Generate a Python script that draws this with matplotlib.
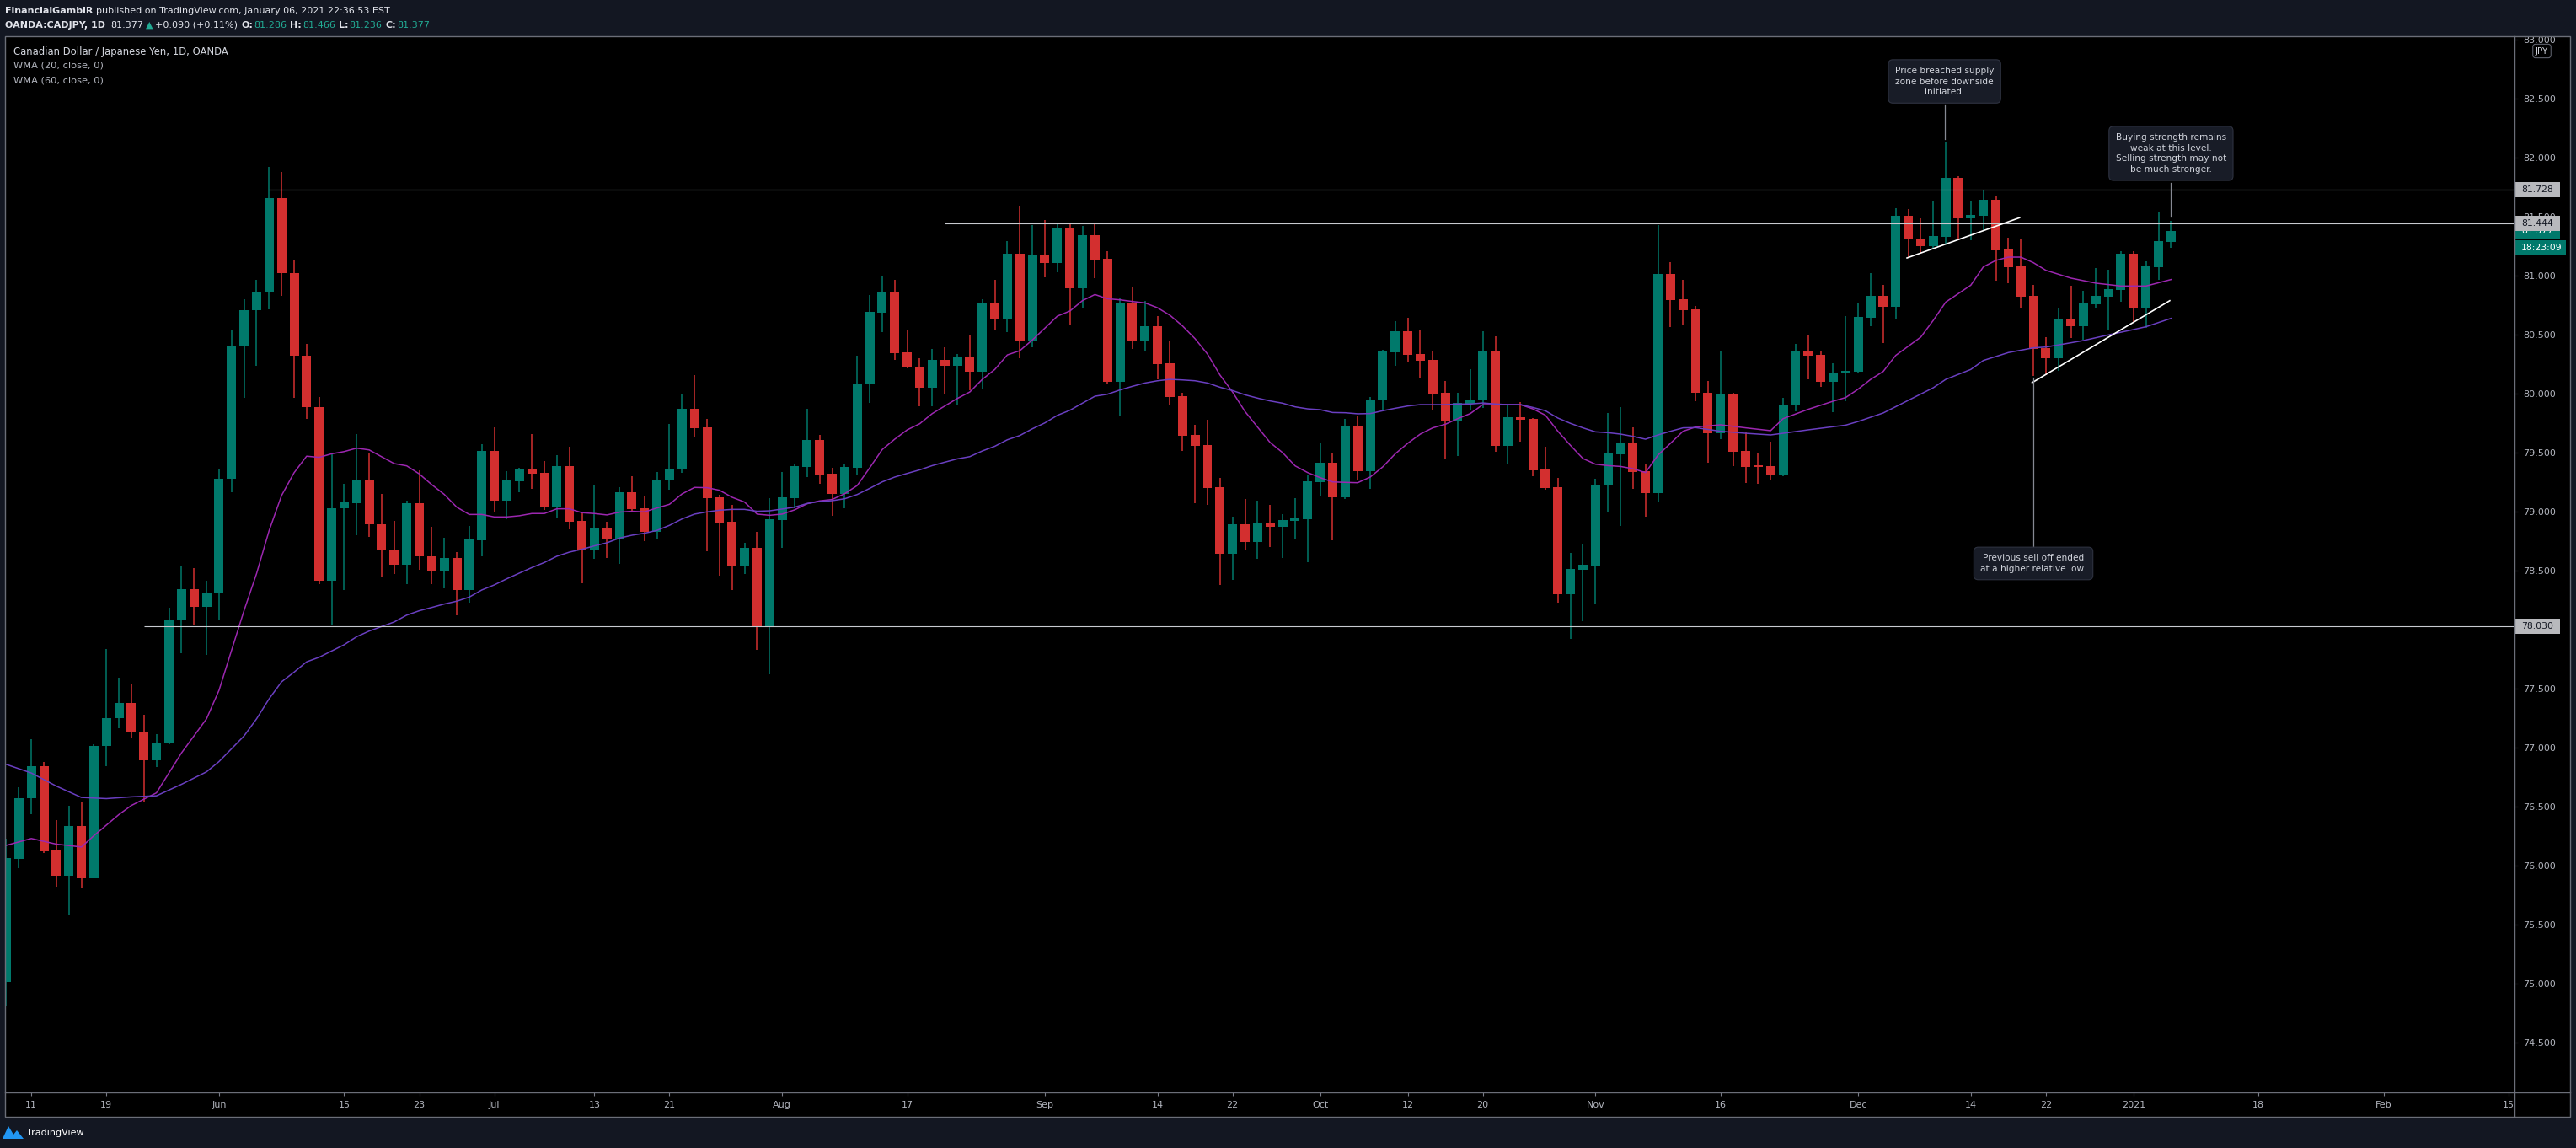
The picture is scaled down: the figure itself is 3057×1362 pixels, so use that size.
import numpy as np
import pandas as pd
import matplotlib
matplotlib.use("Agg")
import matplotlib.pyplot as plt
from matplotlib.patches import Rectangle, Polygon
from matplotlib.lines import Line2D

plt.rcParams['font.family'] = ['DejaVu Sans']

# ---- data ----
# daily bars from 2020-05-07 to 2021-01-07, OANDA:CADJPY
opens = [75.013, 76.056, 76.568, 76.843, 76.129, 75.916, 76.336, 75.892, 77.012, 77.249,
         77.379, 77.133, 76.892, 77.036, 78.084, 78.34, 78.195, 78.311, 79.277, 80.402,
         80.706, 80.856, 81.657, 81.025, 80.325, 79.885, 78.413, 79.031, 79.074, 79.272,
         78.895, 78.669, 78.553, 79.069, 78.622, 78.496, 78.607, 78.338, 78.76, 79.515,
         79.096, 79.26, 79.357, 79.329, 79.038, 79.386, 78.922, 78.672, 78.857, 78.765,
         79.165, 79.029, 78.829, 79.265, 79.36, 79.872, 79.714, 79.122, 78.915, 78.546,
         78.693, 78.031, 78.931, 79.115, 79.379, 79.607, 79.322, 79.152, 79.371, 80.081,
         80.688, 80.864, 80.35, 80.228, 80.052, 80.285, 80.238, 80.307, 80.188, 80.771,
         80.631, 81.185, 80.445, 81.178, 81.109, 81.407, 80.895, 81.343, 81.143, 80.102,
         80.771, 80.445, 80.571, 80.257, 79.978, 79.65, 79.564, 79.205, 78.645, 78.89,
         78.745, 78.897, 78.874, 78.924, 78.938, 79.25, 79.414, 79.121, 79.729, 79.343,
         79.943, 80.35, 80.529, 80.336, 80.286, 80.007, 79.771, 79.914, 79.943, 80.364,
         79.557, 79.8, 79.786, 79.357, 79.207, 78.3, 78.507, 78.543, 79.221, 79.486,
         79.586, 79.343, 79.157, 81.014, 80.8, 80.714, 80.01, 79.667, 80.0, 79.514,
         79.388, 79.386, 79.317, 79.902, 80.364, 80.329, 80.102, 80.169, 80.186, 80.645,
         80.829, 80.736, 81.507, 81.31, 81.25, 81.329, 81.829, 81.486, 81.507, 81.643,
         81.221, 81.079, 80.829, 80.386, 80.3, 80.636, 80.571, 80.76, 80.821, 80.881,
         81.186, 80.721, 81.071, 81.286]
highs = [76.23, 76.665, 77.07, 76.877, 76.385, 76.505, 76.544, 77.027, 77.833, 77.592,
         77.534, 77.278, 77.114, 78.186, 78.533, 78.52, 78.413, 79.354, 80.542, 80.803,
         80.962, 81.918, 81.88, 81.131, 80.421, 79.972, 79.489, 79.238, 79.658, 79.499,
         79.151, 78.92, 79.093, 79.349, 78.872, 78.776, 78.657, 78.879, 79.574, 79.715,
         79.343, 79.372, 79.657, 79.431, 79.479, 79.55, 78.991, 79.229, 78.915, 79.207,
         79.3, 79.129, 79.336, 79.743, 79.993, 80.157, 79.786, 79.141, 79.057, 78.736,
         78.831, 79.115, 79.336, 79.4, 79.872, 79.65, 79.372, 79.4, 80.324, 80.835,
         80.995, 80.964, 80.535, 80.3, 80.378, 80.393, 80.335, 80.502, 80.8, 80.964,
         81.293, 81.593, 81.428, 81.471, 81.443, 81.443, 81.421, 81.445, 81.207, 80.812,
         80.9, 80.785, 80.657, 80.45, 80.007, 79.735, 79.778, 79.285, 78.954, 79.107,
         79.093, 79.057, 78.979, 79.114, 79.312, 79.579, 79.502, 79.786, 79.814, 79.971,
         80.371, 80.614, 80.643, 80.536, 80.357, 80.107, 80.007, 80.207, 80.529, 80.486,
         79.907, 79.929, 79.79, 79.55, 79.286, 78.65, 78.721, 79.276, 79.836, 79.886,
         79.714, 79.4, 81.429, 81.114, 80.964, 80.743, 80.107, 80.357, 80.007, 79.674,
         79.502, 79.593, 79.967, 80.424, 80.495, 80.364, 80.257, 80.657, 80.764, 81.021,
         80.921, 81.571, 81.567, 81.486, 81.633, 82.129, 81.843, 81.636, 81.729, 81.671,
         81.321, 81.314, 80.921, 80.479, 80.721, 80.914, 80.871, 81.064, 81.05, 81.207,
         81.207, 81.121, 81.543, 81.466]
lows = [74.806, 75.979, 76.433, 76.105, 75.82, 75.588, 75.81, 75.89, 76.843, 77.167,
        77.085, 76.534, 76.834, 77.027, 77.8, 78.041, 77.785, 78.089, 79.161, 79.963,
        80.238, 80.711, 80.832, 79.963, 79.789, 78.388, 78.041, 78.335, 78.799, 78.784,
        78.446, 78.471, 78.384, 78.504, 78.388, 78.353, 78.124, 78.231, 78.624, 78.996,
        78.938, 79.167, 79.196, 79.015, 78.953, 78.853, 78.396, 78.603, 78.61, 78.56,
        79.003, 78.753, 78.774, 79.186, 79.331, 79.638, 78.667, 78.46, 78.338, 78.474,
        77.831, 77.622, 78.693, 79.026, 79.296, 79.236, 78.965, 79.026, 79.304, 79.924,
        80.519, 80.288, 80.212, 79.895, 79.895, 80.002, 79.902, 80.031, 80.045, 80.545,
        80.519, 80.302, 80.395, 80.988, 81.031, 80.588, 80.724, 80.981, 80.088, 79.816,
        80.381, 80.359, 80.121, 79.902, 79.516, 79.074, 79.057, 78.38, 78.42, 78.674,
        78.6, 78.702, 78.61, 78.767, 78.574, 79.138, 78.76, 79.11, 79.271, 79.193,
        79.848, 80.238, 80.264, 80.129, 79.857, 79.45, 79.471, 79.864, 79.879, 79.507,
        79.407, 79.593, 79.3, 79.186, 78.229, 77.921, 78.071, 78.214, 78.993, 78.879,
        79.193, 78.957, 79.086, 80.564, 80.579, 79.936, 79.417, 79.617, 79.388, 79.243,
        79.238, 79.267, 79.298, 79.852, 80.121, 80.06, 79.845, 79.936, 80.169, 80.571,
        80.431, 80.631, 81.152, 81.19, 81.233, 81.267, 81.302, 81.302, 81.383, 80.96,
        80.936, 80.721, 80.15, 80.157, 80.193, 80.471, 80.455, 80.721, 80.536, 80.779,
        80.607, 80.557, 80.964, 81.236]
closes = [76.061, 76.568, 76.843, 76.119, 75.916, 76.336, 75.892, 77.012, 77.249, 77.379,
          77.133, 76.892, 77.041, 78.084, 78.34, 78.195, 78.316, 79.277, 80.402, 80.706,
          80.856, 81.657, 81.025, 80.325, 79.885, 78.413, 79.031, 79.079, 79.272, 78.895,
          78.669, 78.553, 79.069, 78.62, 78.496, 78.607, 78.338, 78.765, 79.515, 79.096,
          79.265, 79.357, 79.324, 79.038, 79.386, 78.915, 78.672, 78.857, 78.765, 79.165,
          79.024, 78.829, 79.272, 79.365, 79.872, 79.707, 79.115, 78.907, 78.546, 78.693,
          78.031, 78.936, 79.122, 79.386, 79.607, 79.315, 79.15, 79.378, 80.085, 80.693,
          80.864, 80.345, 80.224, 80.052, 80.285, 80.238, 80.307, 80.188, 80.771, 80.631,
          81.185, 80.445, 81.178, 81.109, 81.407, 80.895, 81.343, 81.138, 80.102, 80.771,
          80.445, 80.571, 80.252, 79.974, 79.645, 79.559, 79.2, 78.645, 78.89, 78.745,
          78.897, 78.874, 78.929, 78.94, 79.257, 79.414, 79.121, 79.729, 79.343, 79.95,
          80.357, 80.529, 80.329, 80.279, 80.0, 79.771, 79.921, 79.95, 80.364, 79.557,
          79.8, 79.779, 79.35, 79.2, 78.3, 78.514, 78.55, 79.229, 79.493, 79.586,
          79.336, 79.157, 81.014, 80.793, 80.707, 80.007, 79.667, 80.0, 79.51, 79.381,
          79.38, 79.317, 79.907, 80.364, 80.324, 80.102, 80.171, 80.193, 80.65, 80.829,
          80.736, 81.507, 81.31, 81.25, 81.333, 81.829, 81.486, 81.512, 81.643, 81.214,
          81.071, 80.821, 80.379, 80.3, 80.636, 80.571, 80.764, 80.829, 80.886, 81.186,
          80.721, 81.079, 81.293, 81.377]

# WMA lines, sampled from the chart (bar number, value)
wma20_x = ([0, 2, 4, 6, 7, 9, 10, 12, 14, 16, 17] + list(range(19, 135))
           + [135, 137, 139, 141, 142, 144, 146, 147, 148, 149, 150, 151, 153, 154, 155,
              157, 158, 159, 160, 161, 162, 163, 165, 167, 169, 171, 173])
wma20_y = [76.172, 76.23, 76.182, 76.158, 76.254, 76.433, 76.51, 76.617, 76.955, 77.244, 77.486,
           78.162, 78.475, 78.838, 79.137, 79.33, 79.47, 79.46, 79.49, 79.509, 79.538,
           79.523, 79.465, 79.407, 79.388, 79.32, 79.229, 79.146, 79.038, 78.976, 78.976,
           78.955, 78.955, 78.965, 78.984, 78.984, 79.024, 79.024, 78.991, 78.984, 78.972,
           78.996, 79.003, 78.998, 79.031, 79.062, 79.15, 79.205, 79.203, 79.181, 79.122,
           79.081, 78.979, 78.969, 78.979, 79.015, 79.067, 79.091, 79.103,
           79.152, 79.221, 79.371, 79.526, 79.614, 79.693, 79.745, 79.831, 79.895, 79.959,
           80.014, 80.121, 80.205, 80.328, 80.364, 80.455, 80.555, 80.657, 80.7, 80.788,
           80.84, 80.804, 80.795, 80.781, 80.769, 80.728, 80.664, 80.574, 80.466, 80.335,
           80.157, 80.014, 79.848, 79.716, 79.586, 79.5,
           79.388, 79.331, 79.288, 79.252, 79.248, 79.245, 79.293, 79.379, 79.49, 79.579,
           79.657, 79.71, 79.74, 79.788, 79.831, 79.907, 79.907, 79.907, 79.907, 79.871,
           79.817, 79.681, 79.562, 79.45, 79.402, 79.39, 79.383, 79.364, 79.331, 79.479,
           79.579, 79.681,
           79.717, 79.736, 79.71, 79.686, 79.788, 79.867, 79.936, 79.967, 80.038, 80.121,
           80.188, 80.324, 80.479, 80.621, 80.776, 80.919, 81.074, 81.129, 81.157, 81.157,
           81.11, 81.045, 80.979, 80.936, 80.912, 80.912, 80.967]

wma60_x = ([0, 2, 4, 6, 8, 10, 12, 14, 16, 17, 19, 20, 21, 22, 23, 24, 25, 27, 28, 29, 31, 32]
           + list(range(33, 135))
           + [135, 137, 139, 141, 142, 144, 147, 148, 150, 152, 154, 155, 157, 158, 160,
              162, 163, 165, 166, 168, 170, 171, 173])
wma60_y = [76.858, 76.785, 76.674, 76.578, 76.568, 76.583, 76.592, 76.689, 76.795, 76.882,
           77.099, 77.244, 77.413, 77.558, 77.64, 77.727, 77.766, 77.872, 77.94, 77.988,
           78.065, 78.123,
           78.16, 78.188, 78.217, 78.241, 78.276, 78.336, 78.379, 78.431, 78.479, 78.526,
           78.569, 78.622, 78.657, 78.681, 78.71, 78.736, 78.776, 78.8, 78.817, 78.841,
           78.884, 78.938, 78.979, 78.998, 79.012, 79.019, 79.019, 79.003, 79.007, 79.022,
           79.038, 79.069, 79.086, 79.093,
           79.109, 79.145, 79.197, 79.252, 79.293, 79.324, 79.354, 79.39, 79.419, 79.447,
           79.466, 79.514, 79.554, 79.609, 79.645, 79.702, 79.752, 79.816, 79.859, 79.919,
           79.978, 79.995, 80.031, 80.062, 80.09, 80.109, 80.121, 80.116, 80.109, 80.09,
           80.054, 80.026, 79.99, 79.962, 79.938, 79.919,
           79.888, 79.871, 79.864, 79.84, 79.838, 79.829, 79.831, 79.855, 79.876, 79.895,
           79.907, 79.907, 79.907, 79.912, 79.912, 79.921, 79.912, 79.907, 79.907, 79.883,
           79.855, 79.793, 79.748, 79.71, 79.676, 79.669, 79.657, 79.638, 79.614, 79.65,
           79.681, 79.71,
           79.712, 79.681, 79.664, 79.65, 79.664, 79.693, 79.733, 79.764, 79.836, 79.943,
           80.05, 80.121, 80.205, 80.281, 80.348, 80.388, 80.395, 80.431, 80.45, 80.498,
           80.543, 80.567, 80.638]

tick_dates = ['2020-05-11', '2020-05-19', '2020-06-01', '2020-06-15', '2020-06-23', '2020-07-01',
              '2020-07-13', '2020-07-21', '2020-08-03', '2020-08-17', '2020-09-01', '2020-09-14',
              '2020-09-22', '2020-10-01', '2020-10-12', '2020-10-20', '2020-11-02', '2020-11-16',
              '2020-12-01', '2020-12-14', '2020-12-22', '2021-01-04', '2021-01-18', '2021-02-01',
              '2021-02-15']
tick_labels = ['11', '19', 'Jun', '15', '23', 'Jul', '13', '21', 'Aug', '17', 'Sep', '14',
               '22', 'Oct', '12', '20', 'Nov', '16', 'Dec', '14', '22', '2021', '18', 'Feb', '15']

levels = [81.728, 81.444, 78.030]
level_start = ['2020-06-05', '2020-08-20', '2020-05-22']

trend1 = (['2020-12-07', '2020-12-18'], [81.15, 81.491])
trend2 = (['2020-12-21', '2021-01-07'], [80.093, 80.788])

last_price = 81.377

GREEN = '#00796b'
RED = '#d32f2f'
TXT = '#e1e3ea'
TEAL = '#22ab94'
AXC = '#b2b5be'

# trading days on the chart (no bar on Christmas and New Year)
days = pd.bdate_range('2020-05-07', '2021-02-19')
days = days[~days.isin(pd.to_datetime(['2020-12-25', '2021-01-01']))]


def pos(d):
    return days.get_loc(pd.Timestamp(d))


W, H = 3057, 1362
fig = plt.figure(figsize=(W / 100, H / 100), dpi=100, facecolor='#131722')


def fx(p):
    return p / W


def fy(p):
    return 1 - p / H


fig.add_artist(Rectangle((fx(6), fy(1325)), fx(3050) - fx(6), fy(43) - fy(1325),
                         transform=fig.transFigure, facecolor='black', edgecolor='none', zorder=-1))

ax = fig.add_axes([fx(6), fy(1296), fx(2984) - fx(6), fy(43) - fy(1296)])
ax.set_facecolor('black')
for s in ax.spines.values():
    s.set_visible(False)
ax.set_xlim(-0.1, 200.45)
ax.set_ylim(74.0786, 83.0286)

# candles
o = np.array(opens)
h = np.array(highs)
l = np.array(lows)
c = np.array(closes)
x = np.arange(len(c))
cols = np.where(c >= o, GREEN, RED)
ax.vlines(x, l, h, colors=cols, lw=1.1, zorder=3)
ax.bar(x, np.maximum(np.abs(c - o), 0.01), bottom=np.minimum(o, c), width=0.74,
       color=cols, linewidth=0, zorder=4)

# moving averages
ax.plot(wma20_x, wma20_y, color='#9c27b0', lw=1.1, zorder=5)
ax.plot(wma60_x, wma60_y, color='#6a3fc1', lw=1.1, zorder=5)

# horizontal levels
for lv, d in zip(levels, level_start):
    ax.hlines(lv, pos(d), 200.45, color='#c8cad0', lw=0.8, zorder=6)

# trend lines
for t in (trend1, trend2):
    ax.plot([pos(t[0][0]) - 0.1, pos(t[0][1]) - 0.1], t[1], color='white', lw=1.2, zorder=6)

# callouts
box = dict(boxstyle='round,pad=0.75,rounding_size=0.5', fc='#181c27', ec='#2e3240', lw=0.8)
ptr = '#868993'
xa = pos('2020-12-10') - 0.1
ax.plot([xa, xa], [82.45, 82.155], color=ptr, lw=0.9, zorder=6)
ax.text(xa, 82.646, 'Price breached supply\nzone before downside\ninitiated.', ha='center',
        va='center', ma='center', fontsize=7.6, color='#d1d4dc', linespacing=1.35, bbox=box, zorder=8)
xb = pos('2021-01-07')
ax.plot([xb, xb], [81.786, 81.50], color=ptr, lw=0.9, zorder=6)
ax.text(xb, 82.036, 'Buying strength remains\nweak at this level.\nSelling strength may not\nbe much stronger.',
        ha='center', va='center', ma='center', fontsize=7.6, color='#d1d4dc', linespacing=1.35,
        bbox=box, zorder=8)
xc = pos('2020-12-21')
ax.plot([xc, xc], [80.136, 78.70], color=ptr, lw=0.9, zorder=6)
ax.text(xc, 78.561, 'Previous sell off ended\nat a higher relative low.', ha='center', va='center',
        ma='center', fontsize=7.6, color='#d1d4dc', linespacing=1.35, bbox=box, zorder=8)

# axes ticks
ax.yaxis.tick_right()
yt = np.arange(74.5, 83.01, 0.5)
ax.set_yticks(yt)
ax.set_yticklabels(['%.3f' % v for v in yt])
ax.tick_params(axis='y', length=3, width=0.8, color='#787b86', labelcolor=AXC, labelsize=8, pad=4.3)
ax.set_xticks([pos(d) for d in tick_dates])
ax.set_xticklabels(tick_labels)
ax.tick_params(axis='x', length=3, width=0.8, color='#787b86', labelcolor=AXC, labelsize=8, pad=4.5)

# price tags on the right scale
ytr = ax.get_yaxis_transform()
axw = 2978


def tag(p, txt, fc, tc, wpx, z):
    ax.add_patch(Rectangle((1.0, p - 9 / 140), wpx / axw, 18 / 140, transform=ytr, facecolor=fc,
                           edgecolor='none', clip_on=False, zorder=z))
    ax.text(1.0 + 8 / axw, p, txt, transform=ytr, ha='left', va='center', fontsize=7.8,
            color=tc, clip_on=False, zorder=z + 0.1)


tag(levels[0], '%.3f' % levels[0], '#b8b9bd', '#131722', 54, 9)
tag(last_price, '%.3f' % last_price, GREEN, 'white', 54, 9)
tag(last_price - 20 / 140, '18:23:09', GREEN, 'white', 61, 9)
tag(levels[1], '%.3f' % levels[1], '#b8b9bd', '#131722', 54, 10)
tag(levels[2], '%.3f' % levels[2], '#b8b9bd', '#131722', 54, 9)

ax.text((3016.5 - 6) / axw, (1296 - 60.5) / 1253, 'JPY', transform=ax.transAxes, ha='center',
        va='center', fontsize=7.5, color='#d1d4dc', clip_on=False, zorder=11,
        bbox=dict(boxstyle='round,pad=0.3,rounding_size=0.3', fc='black', ec='#5d606b', lw=0.8))

# header / footer bands and frame
for rx, ry, rw, rh in [(0, 0, W, 43), (0, 1325, W, H - 1325), (0, 0, 6, H), (3050, 0, W - 3050, H)]:
    fig.add_artist(Rectangle((fx(rx), fy(ry + rh)), rw / W, rh / H, transform=fig.transFigure,
                             facecolor='#131722', edgecolor='none', zorder=10))
fig.add_artist(Rectangle((fx(6), fy(1325)), fx(3050) - fx(6), fy(43) - fy(1325),
                         transform=fig.transFigure, facecolor='none', edgecolor='#6b6e78',
                         lw=1.0, zorder=11))
fig.add_artist(Line2D([fx(2984), fx(2984)], [fy(43), fy(1325)], color='#6b6e78', lw=1.0, zorder=11))
fig.add_artist(Line2D([fx(6), fx(3050)], [fy(1296), fy(1296)], color='#6b6e78', lw=1.0, zorder=11))

renderer = fig.canvas.get_renderer()


def runs(px, py, parts, size):
    for s, col, wt, gap in parts:
        t = fig.text(fx(px), fy(py), s, color=col, fontweight=wt, fontsize=size,
                     ha='left', va='center', zorder=12)
        px += t.get_window_extent(renderer).width + gap


runs(6, 13, [('FinancialGamblR', TXT, 'bold', 4),
             ('published on TradingView.com, January 06, 2021 22:36:53 EST', TXT, 'normal', 0)], 8)
runs(6, 30, [('OANDA:CADJPY, 1D', TXT, 'bold', 6), ('81.377', TXT, 'normal', 3),
             ('\u25B2', TEAL, 'normal', 3), ('+0.090 (+0.11%)', TXT, 'normal', 4),
             ('O:', TXT, 'bold', 1), ('81.286', TEAL, 'normal', 4),
             ('H:', TXT, 'bold', 1), ('81.466', TEAL, 'normal', 4),
             ('L:', TXT, 'bold', 1), ('81.236', TEAL, 'normal', 4),
             ('C:', TXT, 'bold', 1), ('81.377', TEAL, 'normal', 0)], 8)

# legend in the pane
fig.text(fx(16), fy(61), 'Canadian Dollar / Japanese Yen, 1D, OANDA', color='#d1d4dc',
         fontsize=8.4, ha='left', va='center', zorder=12)
fig.text(fx(16), fy(78), 'WMA (20, close, 0)', color=AXC, fontsize=8.2, ha='left', va='center', zorder=12)
fig.text(fx(16), fy(95), 'WMA (60, close, 0)', color=AXC, fontsize=8.2, ha='left', va='center', zorder=12)

# footer logo
fig.add_artist(Polygon([(fx(3), fy(1351)), (fx(10), fy(1336)), (fx(16), fy(1346)),
                        (fx(20), fy(1341)), (fx(28), fy(1351))], closed=True,
                       transform=fig.transFigure, facecolor='#2196f3', edgecolor='none', zorder=12))
fig.text(fx(32), fy(1344), 'TradingView', color='white', fontsize=8, ha='left', va='center', zorder=12)

fig.savefig('out.png', dpi=100, facecolor=fig.get_facecolor())
